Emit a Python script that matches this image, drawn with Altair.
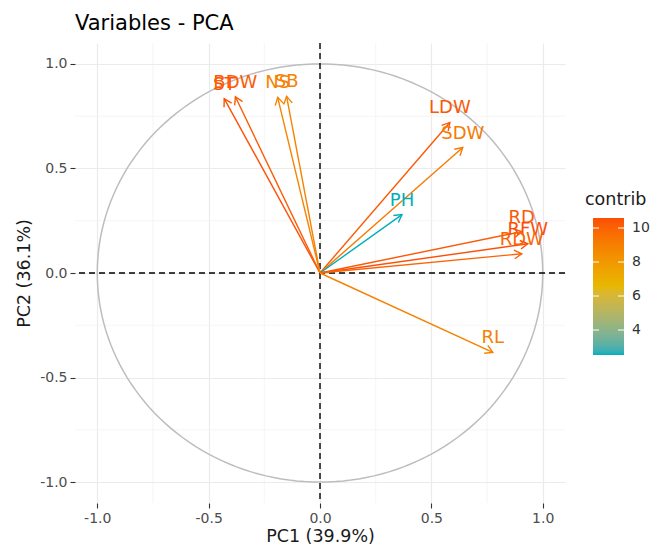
import altair as alt
import pandas as pd

variables = ["ST", "BDW", "NS", "SB", "LDW", "SDW", "PH", "RD", "RFW", "RDW", "RL"]
pc1 = [-0.43, -0.38, -0.19, -0.15, 0.583, 0.641, 0.368, 0.906, 0.933, 0.906, 0.776]
pc2 = [0.834, 0.843, 0.84, 0.845, 0.72, 0.60, 0.279, 0.198, 0.14, 0.092, -0.38]
contrib = [10.5, 10.2, 8.85, 8.84, 10.3, 9.2, 2.53, 10.3, 10.59, 9.9, 8.9]
major_ticks = [-1.0, -0.5, 0.0, 0.5, 1.0]
minor_ticks = [-0.75, -0.25, 0.25, 0.75]
legend_ticks = [4, 6, 8, 10]
legend_title = ["contrib"]

df = pd.DataFrame({"var": variables, "pc1": pc1, "pc2": pc2, "contrib": contrib})
minor_df = pd.DataFrame({"v": minor_ticks})
zero_df = pd.DataFrame({"v": [0.0]})
leg_df = pd.DataFrame({"t": legend_ticks})
leg_title_df = pd.DataFrame({"name": legend_title})

FONT = "DejaVu Sans"
xs = alt.Scale(domain=[-1.1, 1.1], nice=False, zero=False)
ys = alt.Scale(domain=[-1.1, 1.1], nice=False, zero=False)

def mk_axis(title_pad):
    return alt.Axis(values=major_ticks, format=".1f",
                    labelExpr="replace(datum.label, '\u2212', '-')",
                    grid=True, gridColor="#EBEBEB",
                    gridWidth=1.2, domain=False, ticks=True, tickColor="#333333",
                    tickSize=5, tickWidth=1.1, labelFontSize=14, labelColor="#4D4D4D",
                    labelFont=FONT, labelPadding=3, titleFont=FONT, titleFontSize=17.5,
                    titleFontWeight="normal", titleColor="#1A1A1A", titlePadding=title_pad)

ax_x = mk_axis(2)
ax_y = mk_axis(6)
XT = "PC1 (39.9%)"
YT = "PC2 (36.1%)"

def X(f):
    return alt.X(f, type="quantitative", scale=xs, axis=ax_x, title=XT)

def Y(f):
    return alt.Y(f, type="quantitative", scale=ys, axis=ax_y, title=YT)

grad_domain = [2.53, 6.56, 10.59]
grad_colors = ["#00AFBB", "#E7B800", "#FC4E07"]
color_scale = alt.Scale(domain=grad_domain, range=grad_colors, interpolate="lab")
stroke_scale = alt.Scale(domain=grad_domain, range=grad_colors, interpolate="lab")

fill_enc = alt.Color("contrib:Q", scale=color_scale, legend=None)
stroke_enc = alt.Stroke("contrib:Q", scale=stroke_scale, legend=None)

grid_v = alt.Chart(minor_df).mark_rule(color="#F0F0F0", strokeWidth=0.7).encode(x=X("v"))
grid_h = alt.Chart(minor_df).mark_rule(color="#F0F0F0", strokeWidth=0.7).encode(y=Y("v"))

circle = alt.Chart(alt.sequence(0, 362, 2, as_="deg")).transform_calculate(
    cx="cos(datum.deg*PI/180)", cy="sin(datum.deg*PI/180)"
).mark_line(color="#BDBDBD", strokeWidth=1.5).encode(x=X("cx"), y=Y("cy"), order="deg:Q")

zero_v = alt.Chart(zero_df).mark_rule(color="black", strokeDash=[6, 4], strokeWidth=1.4).encode(x=X("v"))
zero_h = alt.Chart(zero_df).mark_rule(color="black", strokeDash=[6, 4], strokeWidth=1.4).encode(y=Y("v"))

base = alt.Chart(df).transform_calculate(
    zero="0",
    ang="(atan2(datum.pc1*222.7, datum.pc2*209.1)*180/PI + 360) % 360",
)

arrows = base.mark_rule(strokeWidth=1.4).encode(
    x=X("zero:Q"), y=Y("zero:Q"), x2="pc1:Q", y2="pc2:Q", stroke=stroke_enc
)

heads = base.mark_point(shape="M-0.5,0.866L0,0L0.5,0.866", filled=False, strokeWidth=1.4,
                        size=300, opacity=1).encode(
    x=X("pc1:Q"), y=Y("pc2:Q"), angle=alt.Angle("ang:Q", scale=None), stroke=stroke_enc
)

labels = base.mark_text(font=FONT, fontSize=18, baseline="middle", align="center", dy=-14).encode(
    x=X("pc1:Q"), y=Y("pc2:Q"), text="var:N", color=fill_enc
)

main = alt.layer(grid_v, grid_h, circle, zero_v, zero_h, arrows, heads, labels)

# colour-bar legend (gradient of the same colour scale), placed right of the panel
leg_y = alt.Scale(domain=[-6.177, 20.885], nice=False, zero=False)
LX0, LX1 = 518, 549

bar = alt.Chart(alt.sequence(2.53, 10.59, 0.04, as_="c")).transform_calculate(
    c2="min(datum.c + 0.12, 10.59)"
).mark_rect(strokeWidth=0).encode(
    x=alt.value(LX0), x2=alt.value(LX1),
    y=alt.Y("c:Q", scale=leg_y, axis=None), y2="c2:Q",
    color=alt.Color("c:Q", scale=color_scale, legend=None),
)
tick_l = alt.Chart(leg_df).mark_rule(color="white", strokeWidth=1).encode(
    x=alt.value(LX0), x2=alt.value(LX0 + 6), y=alt.Y("t:Q", scale=leg_y, axis=None))
tick_r = alt.Chart(leg_df).mark_rule(color="white", strokeWidth=1).encode(
    x=alt.value(LX1 - 6), x2=alt.value(LX1), y=alt.Y("t:Q", scale=leg_y, axis=None))
tick_lab = alt.Chart(leg_df).mark_text(font=FONT, fontSize=14, color="#333333", align="left",
                                       baseline="middle").encode(
    x=alt.value(LX1 + 8), y=alt.Y("t:Q", scale=leg_y, axis=None), text=alt.Text("t:Q"))
leg_title = alt.Chart(leg_title_df).mark_text(font=FONT, fontSize=17.5, color="#1A1A1A",
                                              align="left", baseline="middle").encode(
    x=alt.value(510), y=alt.value(157), text="name:N")

legend = alt.layer(bar, tick_l, tick_r, tick_lab, leg_title)

chart = alt.layer(main, legend).resolve_scale(y="independent").properties(
    width=490, height=460,
    title=alt.TitleParams("Variables - PCA", anchor="start", frame="group", fontSize=21,
                          fontWeight="normal", font=FONT, color="black", offset=8),
    padding={"left": 67, "top": 35, "right": 97, "bottom": 44},
    autosize=alt.AutoSizeParams(type="none"),
    background="white",
).configure_view(stroke=None)

chart.save("out.html", embed_options={"renderer": "svg", "actions": False})
